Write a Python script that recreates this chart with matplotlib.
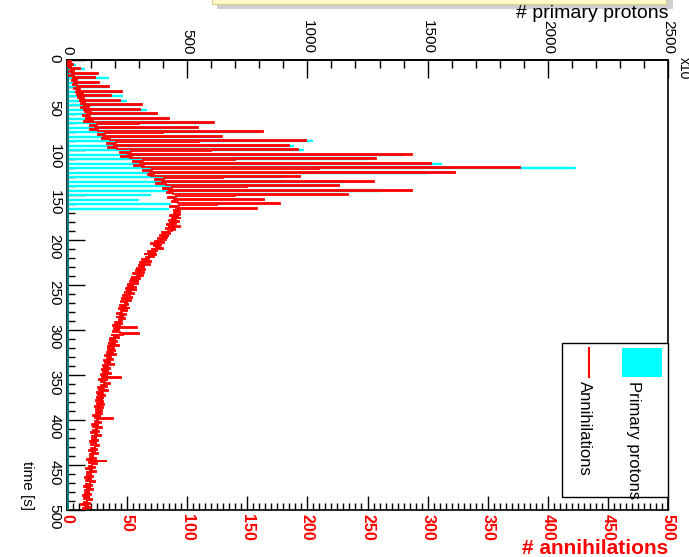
import numpy as np
import matplotlib
matplotlib.use("Agg")
import matplotlib.pyplot as plt
from matplotlib.patches import Rectangle
from matplotlib.lines import Line2D
from matplotlib.ticker import MultipleLocator

plt.rcParams['font.family'] = ['Liberation Sans', 'DejaVu Sans']

# time axis: 1 s bins from 0 to 500 s
time_edges = np.arange(0, 501, 1)

# annihilation counts per 1 s bin (background between proton pulses)
annihilation_bg = [
    1, 3, 2, 0, 2, 4, 1, 3, 2, 5,
    3, 6, 2, 4, 7, 3, 5, 2, 6, 4,
    5, 8, 4, 7, 3, 9, 6, 5, 8, 4,
    9, 6, 11, 8, 12, 7, 10, 13, 8, 11,
    12, 9, 14, 11, 16, 10, 13, 15, 12, 17,
    14, 18, 12, 16, 19, 13, 17, 15, 20, 14,
    17, 13, 19, 16, 21, 15, 18, 22, 14, 19,
    20, 25, 19, 23, 27, 21, 24, 19, 26, 22,
    27, 32, 26, 30, 35, 28, 33, 29, 36, 31,
    35, 41, 33, 39, 44, 36, 40, 34, 42, 38,
    46, 53, 44, 51, 57, 48, 54, 45, 52, 49,
    57, 63, 55, 61, 66, 58, 64, 56, 62, 59,
    66, 71, 63, 69, 74, 65, 72, 67, 70, 64,
    75, 81, 73, 79, 84, 76, 80, 74, 82, 77,
    82, 87, 80, 85, 89, 81, 86, 83, 88, 84,
    86, 91, 84, 89, 93, 85, 90, 87, 92, 88,
    88, 93, 86, 91, 95, 87, 92, 89, 94, 90,
    89, 94, 86, 92, 88, 95, 87, 91, 85, 93,
    86, 91, 83, 88, 94, 84, 89, 82, 90, 87,
    84, 79, 86, 81, 77, 85, 80, 83, 76, 82,
    78, 73, 81, 70, 76, 79, 72, 77, 74, 80,
    71, 75, 67, 73, 69, 64, 74, 68, 72, 66,
    68, 62, 66, 70, 61, 65, 63, 69, 60, 64,
    62, 58, 65, 57, 61, 59, 64, 55, 60, 63,
    58, 54, 61, 53, 57, 60, 52, 56, 59, 51,
    55, 51, 57, 49, 54, 58, 50, 53, 48, 56,
    52, 47, 50, 54, 46, 51, 49, 53, 45, 50,
    48, 51, 44, 49, 46, 52, 43, 47, 50, 45,
    46, 42, 49, 44, 47, 41, 45, 48, 43, 46,
    44, 40, 46, 42, 38, 45, 41, 58, 39, 43,
    42, 38, 44, 60, 47, 37, 41, 39, 43, 36,
    40, 36, 42, 38, 35, 41, 37, 43, 34, 39,
    38, 34, 40, 36, 33, 39, 35, 41, 32, 37,
    36, 33, 38, 31, 35, 37, 32, 34, 39, 30,
    34, 31, 36, 29, 33, 35, 30, 32, 37, 28,
    33, 29, 45, 30, 27, 34, 31, 28, 32, 36,
    31, 28, 33, 26, 30, 32, 27, 34, 29, 25,
    30, 26, 32, 28, 25, 31, 27, 29, 24, 30,
    29, 25, 31, 27, 23, 28, 30, 26, 24, 29,
    27, 24, 29, 25, 22, 28, 26, 23, 38, 25,
    26, 23, 28, 24, 21, 27, 25, 22, 29, 24,
    25, 22, 27, 20, 24, 26, 23, 28, 21, 24,
    24, 21, 26, 19, 23, 25, 22, 20, 27, 23,
    23, 20, 25, 18, 22, 24, 21, 26, 19, 22,
    22, 19, 24, 17, 21, 33, 20, 18, 25, 21,
    21, 18, 23, 16, 20, 22, 19, 24, 17, 20,
    20, 17, 22, 15, 19, 21, 18, 16, 23, 19,
    19, 16, 21, 14, 18, 20, 17, 22, 15, 18,
    18, 15, 20, 13, 17, 19, 16, 14, 21, 17,
    17, 14, 19, 12, 16, 18, 15, 20, 13, 16,
]

# proton pulses: start time [s], protons in the pulse, annihilations in the
# pulse bin and in the bin right after it
pulse_time = [4, 9, 14, 19, 24, 29, 34, 39, 44, 49, 54, 59, 64, 69, 74, 79, 84,
              89, 94, 99, 104, 109, 114, 119, 124, 129, 134, 139, 144, 149,
              154, 159, 164]
pulse_protons = [35, 70, 120, 170, 130, 170, 220, 230, 245, 300, 330, 370, 420,
                 600, 530, 800, 640, 1020, 940, 980, 1400, 1250, 1555, 2115,
                 1500, 900, 1150, 1050, 1300, 345, 295, 430, 420]
pulse_annihilations = [5, 11, 26, 23, 27, 35, 46, 37, 44, 62, 61, 75, 85, 122,
                       109, 163, 129, 199, 185, 192, 287, 257, 303, 377, 323,
                       194, 255, 226, 287, 234, 164, 177, 158]
afterpulse_annihilations = [0, 0, 0, 0, 0, 0, 0, 0, 0, 0, 0, 0, 0, 60, 55, 80,
                            70, 110, 95, 120, 150, 140, 170, 210, 180, 130, 160,
                            150, 170, 140, 120, 125, 115]

annihilations = np.array(annihilation_bg, dtype=float)
protons = np.zeros(len(annihilation_bg))
for t, p, a, b in zip(pulse_time, pulse_protons, pulse_annihilations,
                      afterpulse_annihilations):
    protons[t] = p
    annihilations[t] = a
    annihilations[t + 1] = max(annihilations[t + 1], b)

PROTON_PER_ANNIH = 5.0  # top scale 0-2500 vs bottom scale 0-500

W, H = 689, 557
fig = plt.figure(figsize=(W / 100, H / 100), dpi=100)
fig.patch.set_facecolor('white')

# title pave at the top (mostly outside the canvas)
fig.add_artist(Rectangle((217 / W, 1 - 9 / H), 456 / W, 30 / H,
                         transform=fig.transFigure, facecolor='#a8a8a8',
                         edgecolor='none', alpha=0.55))
fig.add_artist(Rectangle((212 / W, 1 - 4 / H), 454 / W, 30 / H,
                         transform=fig.transFigure, facecolor='#fff9c8',
                         edgecolor='#d8d090', lw=0.8))

x0, x1, y0, y1 = 67, 668, 60, 510
ax = fig.add_axes([x0 / W, 1 - y1 / H, (x1 - x0) / W, (y1 - y0) / H])
ax.set_xlim(0, 500)
ax.set_ylim(500, 0)

# primary protons: filled cyan histogram (scaled to the bottom axis)
ax.stairs(protons / PROTON_PER_ANNIH, time_edges, orientation='horizontal',
          fill=True, color='#00ffff', lw=0, zorder=2)
ax.stairs(protons / PROTON_PER_ANNIH, time_edges, orientation='horizontal',
          color='#00ffff', lw=1.0, baseline=None, zorder=2)
ax.axvline(0, color='#0a7f7f', lw=2.2, zorder=3)

# annihilations: red step line
ax.stairs(annihilations, time_edges, orientation='horizontal',
          color='#ff0000', lw=1.3, baseline=None, zorder=4)

for side in ['top', 'right', 'bottom', 'left']:
    ax.spines[side].set_linewidth(1.2)
    ax.spines[side].set_color('black')

# time axis (left)
ax.yaxis.set_major_locator(MultipleLocator(50))
ax.yaxis.set_minor_locator(MultipleLocator(10))
ax.tick_params(axis='y', which='major', direction='in', length=13, width=1,
               labelsize=11, labelrotation=-90, pad=4, right=False)
ax.tick_params(axis='y', which='minor', direction='in', length=6, width=1,
               right=False)

# annihilation axis (bottom, red labels)
ax.xaxis.set_major_locator(MultipleLocator(50))
ax.xaxis.set_minor_locator(MultipleLocator(5))
ax.tick_params(axis='x', which='major', direction='in', length=10, width=1,
               labelsize=11.5, labelrotation=-90, labelcolor='red', pad=3,
               top=False)
ax.tick_params(axis='x', which='minor', direction='in', length=5, width=1,
               top=False)
for lab in ax.get_xticklabels():
    lab.set_fontweight('bold')

# primary proton axis (top)
sec = ax.secondary_xaxis('top', functions=(lambda v: v * PROTON_PER_ANNIH,
                                           lambda v: v / PROTON_PER_ANNIH))
sec.xaxis.set_major_locator(MultipleLocator(500))
sec.xaxis.set_minor_locator(MultipleLocator(100))
sec.tick_params(axis='x', which='major', direction='in', length=13, width=1,
                labelsize=11, labelrotation=-90, pad=4)
sec.tick_params(axis='x', which='minor', direction='in', length=6, width=1)
sec.spines['top'].set_linewidth(1.2)

# axis titles
fig.text(x1 / W, 1 - 14 / H, '# primary protons', ha='right', va='center',
         fontsize=14, color='black')
fig.text(x1 / W, 1 - 549 / H, '# annihilations', ha='right', va='center',
         fontsize=15, color='red', fontweight='bold')
fig.text(27 / W, 1 - 510 / H, 'time [s]', ha='center', va='bottom',
         rotation=-90, fontsize=11)
fig.text(684 / W, 1 - 57 / H, 'x10', ha='center', va='top', rotation=-90,
         fontsize=10)

# legend box
fig.add_artist(Rectangle((562 / W, 1 - 497 / H), 106 / W, 154 / H,
                         transform=fig.transFigure, facecolor='white',
                         edgecolor='black', lw=1.0, zorder=10))
fig.add_artist(Rectangle((622 / W, 1 - 377 / H), 40 / W, 29 / H,
                         transform=fig.transFigure, facecolor='#00ffff',
                         edgecolor='none', zorder=11))
fig.add_artist(Line2D([589 / W, 589 / W], [1 - 348 / H, 1 - 377 / H],
                      transform=fig.transFigure, color='red', lw=1.5,
                      zorder=11))
fig.text(634 / W, 1 - 381 / H, 'Primary protons', rotation=-90, ha='center',
         va='top', fontsize=12, zorder=12)
fig.text(584 / W, 1 - 381 / H, 'Annihilations', rotation=-90, ha='center',
         va='top', fontsize=12, zorder=12)

fig.savefig('out.png', dpi=100)
